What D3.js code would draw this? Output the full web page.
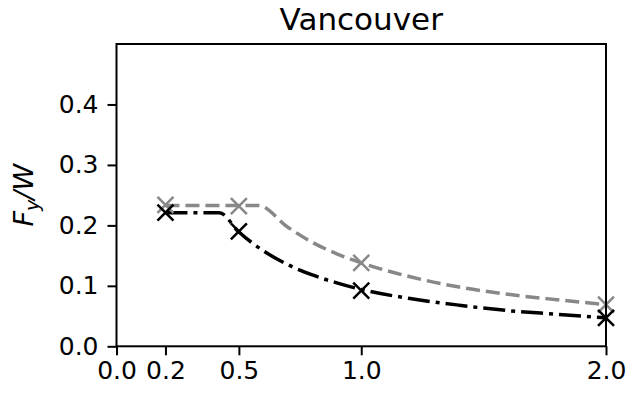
<!DOCTYPE html>
<html>
<head>
<meta charset="utf-8">
<script src="https://cdn.jsdelivr.net/npm/d3@7"></script>
<style>
  html, body { margin: 0; padding: 0; background: #fff; }
  svg { display: block; }
  text { font-family: "DejaVu Sans", sans-serif; fill: #000; }
</style>
</head>
<body>
<div id="chart"></div>
<script>
// ---- data ----
const title = "Vancouver";
const xTicks = [0.0, 0.2, 0.5, 1.0, 2.0];
const yTicks = [0.0, 0.1, 0.2, 0.3, 0.4];

// marker points
const markerT = [0.2, 0.5, 1.0, 2.0];
const grayMarkers = [0.234, 0.232, 0.138, 0.069];
const blackMarkers = [0.221, 0.190, 0.092, 0.047];

// curves
const grayCurveT = [0.2, 0.3, 0.4, 0.5, 0.58, 0.7, 0.8, 0.9, 1.0, 1.2, 1.4, 1.6, 1.8, 2.0];
const grayCurve  = [0.233, 0.233, 0.233, 0.233, 0.233, 0.197, 0.172, 0.153, 0.138, 0.115, 0.098, 0.086, 0.077, 0.069];
const blackCurveT = [0.2, 0.3, 0.42, 0.5, 0.6, 0.7, 0.8, 0.9, 1.0, 1.2, 1.4, 1.6, 1.8, 2.0];
const blackCurve  = [0.221, 0.221, 0.221, 0.189, 0.158, 0.135, 0.118, 0.105, 0.094, 0.079, 0.068, 0.059, 0.053, 0.047];

(function () {
// ---- layout ----
const W = 638, H = 398;
const pLeft = 116.5, pRight = 606, pTop = 44, pBottom = 346.3;

const svg = d3.select("#chart").append("svg").attr("width", W).attr("height", H);

const x = d3.scaleLinear().domain([0, 2.0]).range([pLeft, pRight]);
const y = d3.scaleLinear().domain([0, 0.5]).range([pBottom, pTop]);

// lines
const line = d3.line().x(d => x(d[0])).y(d => y(d[1])).curve(d3.curveMonotoneX);

svg.append("path")
  .datum(d3.zip(grayCurveT, grayCurve))
  .attr("d", line).attr("fill", "none")
  .attr("stroke", "#888").attr("stroke-width", 3.5)
  .attr("stroke-dasharray", "14,6");

svg.append("path")
  .datum(d3.zip(blackCurveT, blackCurve))
  .attr("d", line).attr("fill", "none")
  .attr("stroke", "#000").attr("stroke-width", 3.5)
  .attr("stroke-dasharray", "22,6,4,6");

// markers
function drawX(vals, color) {
  const s = 8;
  const g = svg.append("g");
  d3.zip(markerT, vals).forEach(d => {
    const cx = x(d[0]), cy = y(d[1]);
    g.append("path")
      .attr("d", `M${cx - s},${cy - s}L${cx + s},${cy + s}M${cx - s},${cy + s}L${cx + s},${cy - s}`)
      .attr("stroke", color).attr("stroke-width", 2.5).attr("fill", "none");
  });
}
drawX(grayMarkers, "#888");
drawX(blackMarkers, "#000");

// frame
svg.append("rect")
  .attr("x", pLeft).attr("y", pTop)
  .attr("width", pRight - pLeft).attr("height", pBottom - pTop)
  .attr("fill", "none").attr("stroke", "#000").attr("stroke-width", 2);

// axes
const xAxis = d3.axisBottom(x).tickValues(xTicks).tickFormat(d3.format(".1f"))
  .tickSize(9).tickPadding(6);
const yAxis = d3.axisLeft(y).tickValues(yTicks).tickFormat(d3.format(".1f"))
  .tickSize(9).tickPadding(9);

const gx = svg.append("g").attr("transform", `translate(0,${pBottom})`).call(xAxis);
const gy = svg.append("g").attr("transform", `translate(${pLeft},0)`).call(yAxis);
[gx, gy].forEach(g => {
  g.select(".domain").remove();
  g.selectAll(".tick line").attr("stroke", "#000").attr("stroke-width", 2);
  g.selectAll(".tick text").attr("font-size", 25).attr("font-family", "DejaVu Sans").attr("fill", "#000");
});

// title
svg.append("text")
  .attr("x", (pLeft + pRight) / 2).attr("y", 30)
  .attr("text-anchor", "middle")
  .attr("font-size", 31)
  .text(title);

// y label
const yl = svg.append("text")
  .attr("transform", `translate(33,${(pTop + pBottom) / 2}) rotate(-90)`)
  .attr("text-anchor", "middle")
  .attr("font-size", 27)
  .attr("font-style", "italic");
yl.append("tspan").text("F");
yl.append("tspan").attr("font-size", 19).attr("dy", 6).text("y");
yl.append("tspan").attr("dy", -6).text("/W");
})();
</script>
</body>
</html>
